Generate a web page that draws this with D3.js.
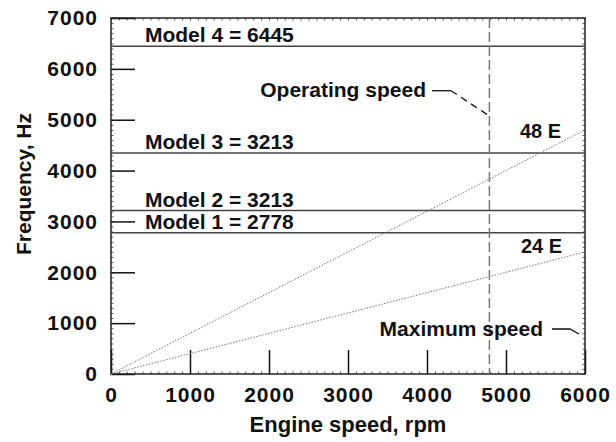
<!DOCTYPE html>
<html>
<head>
<meta charset="utf-8">
<script src="https://cdn.jsdelivr.net/npm/d3@7"></script>
<style>
  body { margin: 0; background: #fff; }
  svg text { font-family: "Liberation Sans", Arial, sans-serif; font-weight: bold; fill: #111; }
</style>
</head>
<body>
<div id="chart"></div>
<script>
// axis ranges and ticks
const speedDomain = [0, 6000];
const freqDomain = [0, 7000];
const speedTicks = [0, 1000, 2000, 3000, 4000, 5000, 6000];
const freqTicks = [0, 1000, 2000, 3000, 4000, 5000, 6000, 7000];

// natural frequencies of the models (label text kept as in the figure)
const modelLabels = ["Model 1 = 2778", "Model 2 = 3213", "Model 3 = 3213", "Model 4 = 6445"];
const modelFreqs = [2778, 3213, 4345, 6445];

// engine orders
const orderLabels = ["24 E", "48 E"];
const orderSpeeds = [0, 6000];
const order24 = [0, 2400];
const order48 = [0, 4800];
const orderLabelPos = [[5190, 2379], [5177, 4640]];

const operatingSpeed = 4790;

// annotation anchors in data units
const operatingText = [3987, 5446];
const operatingLeader = [[4063, 5570], [4304, 5570], [4772, 5092]];
const maximumText = [5468, 747];
const maximumLeader = [[5582, 885], [5810, 885], [5924, 786]];

const W = 616, H = 442;
const margin = { left: 111, right: 31, top: 18, bottom: 68 };

const svg = d3
  .select("#chart")
  .append("svg")
  .attr("width", W)
  .attr("height", H);

const x = d3.scaleLinear().domain(speedDomain).range([margin.left, W - margin.right]);
const y = d3.scaleLinear().domain(freqDomain).range([H - margin.bottom, margin.top]);

const minorX = d3.range(speedDomain[0], speedDomain[1] + 1, 100);
const minorY = d3.range(freqDomain[0], freqDomain[1] + 1, 100);

// minor ticks on all four sides
function minor(axis, tr) {
  svg.append("g")
    .attr("transform", tr)
    .call(axis)
    .call((g) => g.select(".domain").remove())
    .call((g) => g.selectAll("text").remove())
    .call((g) => g.selectAll("line").attr("stroke", "#333").attr("stroke-width", 0.8));
}
minor(d3.axisBottom(x).tickValues(minorX).tickSize(-2.5), `translate(0,${y(0)})`);
minor(d3.axisTop(x).tickValues(minorX).tickSize(-2.5), `translate(0,${y(7000)})`);
minor(d3.axisLeft(y).tickValues(minorY).tickSize(-2.5), `translate(${x(0)},0)`);
minor(d3.axisRight(y).tickValues(minorY).tickSize(-2.5), `translate(${x(6000)},0)`);

// major axes
const xAxis = svg.append("g")
  .attr("transform", `translate(0,${y(0)})`)
  .call(d3.axisBottom(x).tickValues(speedTicks).tickFormat(d3.format("d")).tickSize(-24).tickPadding(13))
  .call((g) => g.select(".domain").remove());
xAxis.selectAll("line").attr("stroke", "#111").attr("stroke-width", 1.5);
xAxis.selectAll("text").style("font-size", "21px").attr("letter-spacing", "1px");

const yAxis = svg.append("g")
  .attr("transform", `translate(${x(0)},0)`)
  .call(d3.axisLeft(y).tickValues(freqTicks).tickFormat(d3.format("d")).tickSize(-24).tickPadding(13))
  .call((g) => g.select(".domain").remove());
yAxis.selectAll("line").attr("stroke", "#111").attr("stroke-width", 1.5);
yAxis.selectAll("text").style("font-size", "21px").attr("letter-spacing", "1px");

// frame
svg.append("rect")
  .attr("x", x(0))
  .attr("y", y(7000))
  .attr("width", x(6000) - x(0))
  .attr("height", y(0) - y(7000))
  .attr("fill", "none")
  .attr("stroke", "#222")
  .attr("stroke-width", 1.5);

// model lines
svg.selectAll(".model")
  .data(modelFreqs)
  .join("line")
  .attr("class", "model")
  .attr("x1", x(0))
  .attr("x2", x(6000))
  .attr("y1", (d) => y(d))
  .attr("y2", (d) => y(d))
  .attr("stroke", "#444")
  .attr("stroke-width", 1.5);

svg.selectAll(".modelLabel")
  .data(modelFreqs)
  .join("text")
  .attr("class", "modelLabel")
  .attr("x", x(430))
  .attr("y", (d) => y(d) - 4)
  .style("font-size", "21px")
  .text((d, i) => modelLabels[i]);

// engine order lines
const line = d3.line()
  .x((d, i) => x(orderSpeeds[i]))
  .y((d) => y(d));

[order24, order48].forEach((vals) => {
  svg.append("path")
    .attr("d", line(vals))
    .attr("fill", "none")
    .attr("stroke", "#777")
    .attr("stroke-width", 1)
    .attr("stroke-dasharray", "1.5,1.5");
});

svg.selectAll(".orderLabel")
  .data(orderLabels)
  .join("text")
  .attr("class", "orderLabel")
  .attr("x", (d, i) => x(orderLabelPos[i][0]))
  .attr("y", (d, i) => y(orderLabelPos[i][1]))
  .style("font-size", "20px")
  .text((d) => d);

// operating speed
svg.append("line")
  .attr("x1", x(operatingSpeed))
  .attr("x2", x(operatingSpeed))
  .attr("y1", y(7000))
  .attr("y2", y(0))
  .attr("stroke", "#777")
  .attr("stroke-width", 1.5)
  .attr("stroke-dasharray", "10,4");

svg.append("text")
  .attr("x", x(operatingText[0]))
  .attr("y", y(operatingText[1]))
  .attr("text-anchor", "end")
  .style("font-size", "21px")
  .text("Operating speed");

svg.append("line")
  .attr("x1", x(operatingLeader[0][0]))
  .attr("y1", y(operatingLeader[0][1]))
  .attr("x2", x(operatingLeader[1][0]))
  .attr("y2", y(operatingLeader[1][1]))
  .attr("stroke", "#111")
  .attr("stroke-width", 1.3);
svg.append("line")
  .attr("x1", x(operatingLeader[1][0]))
  .attr("y1", y(operatingLeader[1][1]))
  .attr("x2", x(operatingLeader[2][0]))
  .attr("y2", y(operatingLeader[2][1]))
  .attr("stroke", "#111")
  .attr("stroke-width", 1.3)
  .attr("stroke-dasharray", "7,5");

svg.append("text")
  .attr("x", x(maximumText[0]))
  .attr("y", y(maximumText[1]))
  .attr("text-anchor", "end")
  .style("font-size", "21px")
  .text("Maximum speed");

svg.append("path")
  .attr("d", d3.line().x((d) => x(d[0])).y((d) => y(d[1]))(maximumLeader))
  .attr("fill", "none")
  .attr("stroke", "#111")
  .attr("stroke-width", 1.3);

// axis titles
svg.append("text")
  .attr("x", (x(0) + x(6000)) / 2)
  .attr("y", 432)
  .attr("text-anchor", "middle")
  .style("font-size", "22px")
  .text("Engine speed, rpm");

svg.append("text")
  .attr("transform", `translate(31,${y(3500) - 12}) rotate(-90)`)
  .attr("text-anchor", "middle")
  .style("font-size", "21px")
  .text("Frequency, Hz");
</script>
</body>
</html>
